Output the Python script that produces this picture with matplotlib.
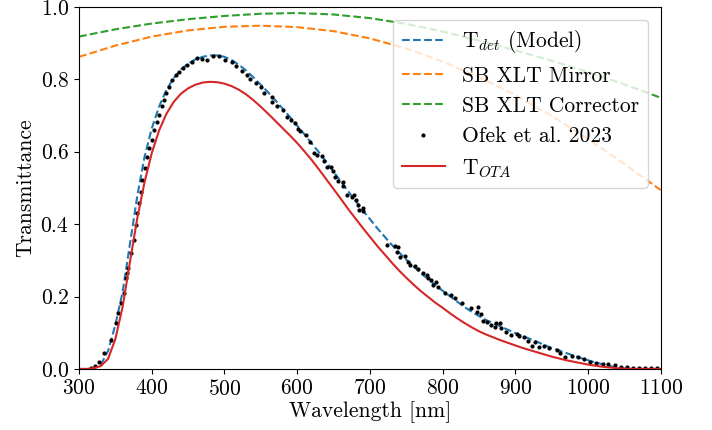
import numpy as np
import matplotlib
matplotlib.use('Agg')
import matplotlib.pyplot as plt

# LaTeX-like look without a TeX install
plt.rcParams['font.family'] = 'serif'
plt.rcParams['font.serif'] = ['cmr10']
plt.rcParams['mathtext.fontset'] = 'cm'
plt.rcParams['axes.formatter.use_mathtext'] = True
plt.rcParams['font.size'] = 15.5

# model curves, 10 nm grid
wl = np.arange(300, 1101, 10)
t_det = [0.000, 0.000, 0.003, 0.012, 0.050, 0.122, 0.213, 0.345, 0.476, 0.585,
         0.664, 0.724, 0.770, 0.803, 0.827, 0.843, 0.855, 0.862, 0.866, 0.866,
         0.862, 0.853, 0.840, 0.824, 0.805, 0.785, 0.764, 0.742, 0.719, 0.696,
         0.672, 0.648, 0.623, 0.598, 0.572, 0.545, 0.518, 0.491, 0.465, 0.439,
         0.414, 0.389, 0.366, 0.343, 0.322, 0.302, 0.283, 0.265, 0.248, 0.232,
         0.216, 0.201, 0.186, 0.171, 0.158, 0.146, 0.135, 0.126, 0.117, 0.108,
         0.099, 0.091, 0.083, 0.075, 0.066, 0.058, 0.051, 0.044, 0.037, 0.030,
         0.024, 0.018, 0.013, 0.008, 0.004, 0.001, 0.000, 0.000, 0.000, 0.000,
         0.000]
t_ota = [0.000, 0.000, 0.002, 0.008, 0.028, 0.083, 0.172, 0.295, 0.415, 0.515,
         0.596, 0.658, 0.704, 0.737, 0.760, 0.775, 0.785, 0.791, 0.793, 0.792,
         0.788, 0.781, 0.771, 0.758, 0.742, 0.724, 0.705, 0.685, 0.665, 0.645,
         0.624, 0.601, 0.577, 0.551, 0.524, 0.497, 0.470, 0.442, 0.416, 0.390,
         0.365, 0.340, 0.317, 0.294, 0.272, 0.252, 0.233, 0.215, 0.199, 0.183,
         0.169, 0.154, 0.140, 0.127, 0.115, 0.104, 0.095, 0.087, 0.079, 0.072,
         0.065, 0.058, 0.052, 0.046, 0.040, 0.034, 0.029, 0.024, 0.020, 0.016,
         0.012, 0.009, 0.006, 0.004, 0.002, 0.0005, 0.000, 0.000, 0.000, 0.000,
         0.000]

# telescope optics, 50 nm grid
wl_opt = np.arange(300, 1101, 50)
mirror = [0.862, 0.893, 0.918, 0.935, 0.945, 0.948, 0.944, 0.933, 0.913,
          0.885, 0.849, 0.806, 0.756, 0.699, 0.635, 0.566, 0.494]
corrector = [0.918, 0.938, 0.954, 0.966, 0.975, 0.981, 0.983, 0.979, 0.969,
             0.953, 0.932, 0.907, 0.880, 0.851, 0.820, 0.786, 0.749]

# Ofek et al. 2023 measured points
ofek_wl = [316, 322, 327.5, 334.4, 343.5, 350.4, 354, 357.3, 361.9, 364.2,
           365.5, 367.8, 371, 375.6, 377.9, 380.2, 382.5, 384.8, 387, 390.7,
           393.9, 396.2, 399.9, 403.1, 407.7, 410, 413.6, 416.8, 420, 423.7,
           428.3, 432.9, 437.5, 443, 448.9, 455.7, 462.6, 468.6, 476.4, 483.8,
           492.9, 500.7, 509.9, 515.8, 523.6, 530.5, 535, 543.3, 549.7, 554.3,
           564.8, 566, 572.6, 580, 586.3, 591, 597, 601.5, 603.8, 612,
           617.5, 623, 627.6, 633.6, 636.8, 641.3, 647, 649.5, 652, 656.5,
           662.4, 663, 668, 675, 678, 681, 684, 685, 690, 691,
           723, 734.4, 736.7, 739, 741, 748, 752.7, 755, 762, 766,
           773, 778, 780, 784.6, 786.9, 791.6, 793.8, 803, 812, 817,
           826, 839.7, 848, 849, 853.5, 855, 861, 866, 872, 874,
           879.6, 880.5, 887, 894.7, 902.5, 905, 911.7, 917.6, 923.6, 927,
           932.7, 939, 947, 957.5, 962, 969, 978.6, 986, 994, 1003,
           1010.7, 1020, 1027.6, 1036.8, 1046, 1054, 1062, 1070, 1079, 1087,
           1095]
ofek_t = [0.003, 0.008, 0.020, 0.043, 0.080, 0.126, 0.154, 0.181, 0.209, 0.250,
          0.264, 0.278, 0.320, 0.356, 0.398, 0.430, 0.458, 0.490, 0.522, 0.554,
          0.586, 0.610, 0.633, 0.660, 0.683, 0.702, 0.725, 0.743, 0.762, 0.780,
          0.798, 0.812, 0.821, 0.831, 0.840, 0.849, 0.858, 0.855, 0.852, 0.865,
          0.865, 0.854, 0.849, 0.837, 0.824, 0.812, 0.800, 0.791, 0.778, 0.763,
          0.752, 0.738, 0.725, 0.715, 0.695, 0.688, 0.679, 0.662, 0.656, 0.646,
          0.628, 0.596, 0.591, 0.588, 0.573, 0.559, 0.557, 0.548, 0.531, 0.520,
          0.515, 0.506, 0.481, 0.474, 0.481, 0.467, 0.453, 0.439, 0.444, 0.435,
          0.343, 0.340, 0.324, 0.336, 0.310, 0.312, 0.296, 0.287, 0.283, 0.275,
          0.264, 0.260, 0.250, 0.246, 0.232, 0.241, 0.227, 0.209, 0.203, 0.195,
          0.181, 0.168, 0.158, 0.170, 0.152, 0.133, 0.130, 0.122, 0.115, 0.128,
          0.128, 0.114, 0.101, 0.094, 0.097, 0.091, 0.089, 0.077, 0.064, 0.074,
          0.060, 0.062, 0.058, 0.052, 0.043, 0.034, 0.036, 0.034, 0.028, 0.020,
          0.016, 0.014, 0.014, 0.011, 0.006, 0.004, 0.003, 0.003, 0.003, 0.002,
          0.002]

fig = plt.figure(figsize=(7.12, 4.30), dpi=100)
ax = fig.add_axes([0.111, 0.142, 0.817, 0.842])

ax.plot(wl, t_det, '--', color='C0', lw=1.5, label=r'T$_{det}$ (Model)')
ax.plot(wl_opt, mirror, '--', color='C1', lw=1.5, label='SB XLT Mirror')
ax.plot(wl_opt, corrector, '--', color='C2', lw=1.5, label='SB XLT Corrector')
ax.plot(ofek_wl, ofek_t, 'k.', ms=4, label='Ofek et al. 2023')
ax.plot(wl, t_ota, '-', color='tab:red', lw=1.5, label=r'T$_{OTA}$')

ax.set_xlim(300, 1100)
ax.set_ylim(0, 1.0)
ax.set_xticks(np.arange(300, 1101, 100))
ax.set_yticks(np.arange(0, 1.01, 0.2))
ax.set_xlabel('Wavelength [nm]', labelpad=2)
ax.set_ylabel('Transmittance')
ax.legend(loc='upper right', borderaxespad=0.6)

fig.savefig('out.png', dpi=100)
